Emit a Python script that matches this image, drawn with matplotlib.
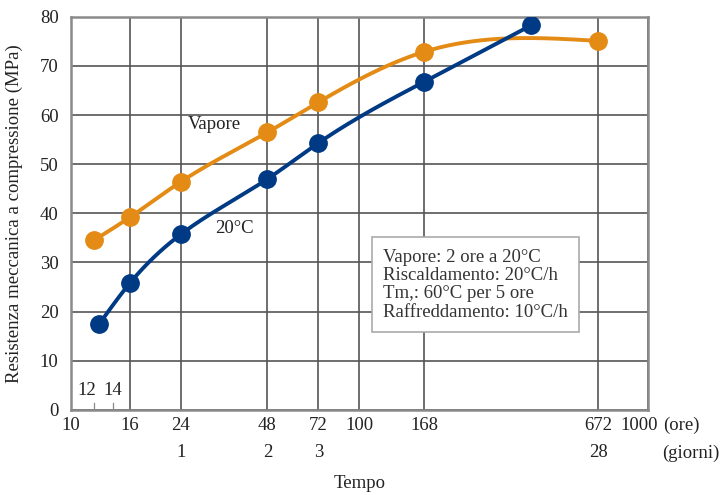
import numpy as np
import matplotlib
matplotlib.use('Agg')
import matplotlib.pyplot as plt
from matplotlib import transforms

plt.rcParams['font.family'] = ['Liberation Serif', 'DejaVu Serif']

# dati
ore_vapore = [12, 16, 24, 48, 72, 168, 672]
res_vapore = [34.5, 39.2, 46.4, 56.5, 62.6, 72.9, 75.1]
ore_20c = [12.5, 16, 24, 48, 72, 168, 395]
res_20c = [17.4, 25.8, 35.7, 47.0, 54.3, 66.8, 78.3]

tick_ore = [10, 16, 24, 48, 72, 100, 168, 672, 1000]
tick_giorni = [24, 48, 72, 672]
label_giorni = ['1', '2', '3', '28']
tick_piccoli = [12, 14]
tick_y = [0, 10, 20, 30, 40, 50, 60, 70, 80]

col_vapore = '#E38B14'
col_20c = '#003A84'
fs = 13.5


def spline(x, y, xs):
    # spline cubica naturale
    x = np.asarray(x, float)
    y = np.asarray(y, float)
    n = len(x)
    h = np.diff(x)
    A = np.zeros((n, n))
    b = np.zeros(n)
    A[0, 0] = 1
    A[-1, -1] = 1
    for i in range(1, n - 1):
        A[i, i - 1] = h[i - 1]
        A[i, i] = 2 * (h[i - 1] + h[i])
        A[i, i + 1] = h[i]
        b[i] = 6 * ((y[i + 1] - y[i]) / h[i] - (y[i] - y[i - 1]) / h[i - 1])
    M = np.linalg.solve(A, b)
    out = np.zeros_like(xs)
    for k, xv in enumerate(xs):
        i = min(max(np.searchsorted(x, xv) - 1, 0), n - 2)
        t1 = x[i + 1] - xv
        t0 = xv - x[i]
        out[k] = (M[i] * t1**3 + M[i + 1] * t0**3) / (6 * h[i]) \
            + (y[i] / h[i] - M[i] * h[i] / 6) * t1 \
            + (y[i + 1] / h[i] - M[i + 1] * h[i] / 6) * t0
    return out


fig = plt.figure(figsize=(7.21, 4.95), dpi=100)
ax = fig.add_axes([0.0985, 0.172, 0.800, 0.794])
ax.set_xscale('log')

for ore, res, col in [(ore_vapore, res_vapore, col_vapore), (ore_20c, res_20c, col_20c)]:
    lx = np.log10(ore)
    xs = np.linspace(lx[0], lx[-1], 300)
    ax.plot(10**xs, spline(lx, res, xs), color=col, lw=2.8, zorder=3)
    ax.plot(ore, res, 'o', color=col, ms=12.5, zorder=4)

ax.set_xlim(10, 1000)
ax.set_ylim(0, 80)
ax.set_xticks(tick_ore)
ax.set_xticklabels([str(t) for t in tick_ore])
ax.xaxis.set_minor_locator(matplotlib.ticker.NullLocator())
ax.set_yticks(tick_y)
ax.tick_params(axis='both', length=0, labelsize=fs, colors='#222222')
ax.tick_params(axis='x', pad=5)
ax.tick_params(axis='y', pad=9)
ax.grid(True, color='#555555', lw=1.2)
ax.set_axisbelow(True)
for s in ax.spines.values():
    s.set_color('#8a8a8a')
    s.set_linewidth(1.8)
# 1000 leggermente spostato a sinistra come nell'originale
lab1000 = ax.get_xticklabels()[-1]
lab1000.set_transform(lab1000.get_transform() + transforms.ScaledTranslation(-6 / 72, 0, fig.dpi_scale_trans))

# tick 12 e 14 dentro il grafico
for t, dx in zip(tick_piccoli, [-5, 0]):
    ax.plot([t, t], [0, 1.3], color='#888888', lw=0.9)
    ax.annotate(str(t), xy=(t, 2.2), xytext=(dx, 0), textcoords='offset points',
                ha='center', va='bottom', fontsize=fs, color='#222222')

trans = transforms.blended_transform_factory(ax.transData, ax.transAxes)
for t, lab in zip(tick_giorni, label_giorni):
    ax.text(t, -0.088, lab, transform=trans, ha='center', va='top', fontsize=fs, color='#222222')
ax.annotate('(ore)', xy=(1000, 0), xycoords=trans, xytext=(11, -5), textcoords='offset points',
            ha='left', va='top', fontsize=fs, color='#222222', annotation_clip=False)
ax.annotate('(giorni)', xy=(1000, -0.088), xycoords=trans, xytext=(10, 0), textcoords='offset points',
            ha='left', va='top', fontsize=fs, color='#222222', annotation_clip=False)

ax.set_xlabel('Tempo', fontsize=fs, color='#222222')
ax.xaxis.set_label_coords(0.5, -0.165)
ax.set_ylabel('Resistenza meccanica a compressione (MPa)', fontsize=fs, labelpad=12, color='#222222')

ax.text(31.5, 58, 'Vapore', fontsize=fs, ha='center', va='center', color='#222222')
ax.text(37, 37, '20°C', fontsize=fs, ha='center', va='center', color='#222222')

ax.text(121, 25.5, 'Vapore: 2 ore a 20°C\nRiscaldamento: 20°C/h\nTm,: 60°C per 5 ore\nRaffreddamento: 10°C/h',
        fontsize=fs, ha='left', va='center', color='#333333', linespacing=1.1, zorder=5,
        bbox=dict(boxstyle='square,pad=0.6', fc='white', ec='#aaaaaa', lw=1.2))

fig.savefig('out.png', dpi=100)
